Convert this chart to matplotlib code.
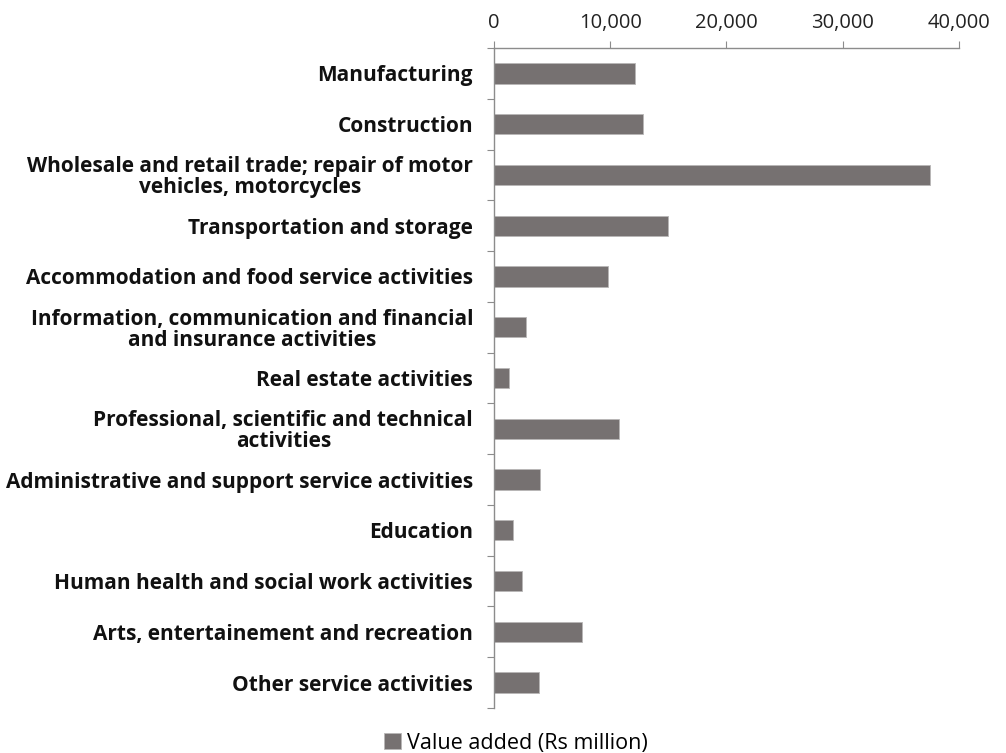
import matplotlib
matplotlib.use("Agg")
import matplotlib.pyplot as plt
from matplotlib.ticker import FuncFormatter
import numpy as np

### data ###
categories = [
    "Manufacturing",
    "Construction",
    "Wholesale and retail trade; repair of motor\nvehicles, motorcycles",
    "Transportation and storage",
    "Accommodation and food service activities",
    "Information, communication and financial\nand insurance activities",
    "Real estate activities",
    "Professional, scientific and technical\nactivities",
    "Administrative and support service activities",
    "Education",
    "Human health and social work activities",
    "Arts, entertainement and recreation",
    "Other service activities",
]
value_added = [12100, 12850, 37500, 14950, 9850, 2800, 1300, 10750,
               4000, 1650, 2450, 7550, 3900]
x_ticks = [0, 10000, 20000, 30000, 40000]
series_name = "Value added (Rs million)"

bar_color = "#767171"
axis_color = "#8c8c8c"
font = "Open Sans"

fig = plt.figure(figsize=(10.06, 7.53), dpi=100)
ax = fig.add_axes([0.491, 0.0598, 0.4622, 0.8765])

y = np.arange(len(categories))
ax.barh(y, value_added, height=0.4, color=bar_color,
        edgecolor="#b8b6b6", linewidth=0.6, label=series_name)

ax.set_xlim(0, 40000)
ax.set_ylim(len(categories) - 0.5, -0.5)

### x axis on top
ax.xaxis.tick_top()
ax.set_xticks(x_ticks)
ax.xaxis.set_major_formatter(FuncFormatter(lambda v, p: f"{int(v):,}"))
ax.tick_params(axis="x", direction="out", length=5, color=axis_color,
               labelsize=14.5, labelcolor="#222222", pad=6)
for t in ax.get_xticklabels():
    t.set_fontfamily(font)

### category ticks sit between bars, labels sit on the bars
ax.set_yticks(np.arange(-0.5, len(categories), 1.0))
ax.set_yticklabels([])
ax.set_yticks(y, minor=True)
ax.set_yticklabels(categories, minor=True, fontfamily=font, fontweight="bold",
                   fontsize=15, ha="right", multialignment="center",
                   linespacing=1.0)
ax.tick_params(axis="y", which="major", direction="out", length=5, color=axis_color)
ax.tick_params(axis="y", which="minor", length=0, pad=15, labelcolor="#111111")

for s in ["right", "bottom"]:
    ax.spines[s].set_visible(False)
for s in ["left", "top"]:
    ax.spines[s].set_color(axis_color)
    ax.spines[s].set_linewidth(1.0)

fig.legend(loc="center", bbox_to_anchor=(0.513, 0.013), frameon=False,
           handlelength=0.75, handleheight=0.75, handletextpad=0.3,
           prop={"family": font, "size": 15.5})

plt.savefig("out.png", dpi=100)
plt.close()
